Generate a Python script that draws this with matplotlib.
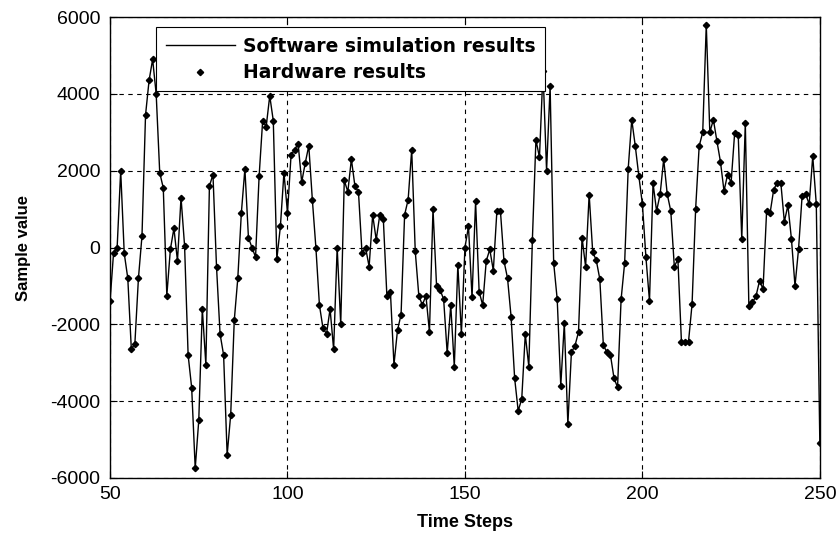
import numpy as np
import matplotlib
matplotlib.use('Agg')
import matplotlib.pyplot as plt

plt.rcParams['font.family'] = ['Liberation Sans', 'DejaVu Sans']
plt.rcParams['axes.unicode_minus'] = False

steps = list(range(50, 251))
values = [
    -1400, -130, 0, 2000, -150, -800, -2650, -2500, -800, 300,          # 50-59
    3450, 4350, 4900, 4000, 1950, 1550, -1250, -50, 500, -350,          # 60-69
    1300, 50, -2800, -3650, -5750, -4500, -1600, -3050, 1600, 1900,     # 70-79
    -500, -2250, -2800, -5400, -4350, -1900, -800, 900, 2050, 250,      # 80-89
    0, -250, 1850, 3300, 3150, 3950, 3300, -300, 550, 1950,             # 90-99
    900, 2400, 2550, 2700, 1700, 2200, 2650, 1250, 0, -1500,            # 100-109
    -2100, -2250, -1600, -2650, 0, -2000, 1750, 1450, 2300, 1600,       # 110-119
    1450, -150, 0, -500, 850, 200, 850, 750, -1250, -1150,              # 120-129
    -3050, -2150, -1750, 850, 1250, 2550, -100, -1250, -1500, -1250,    # 130-139
    -2200, 1000, -1000, -1100, -1350, -2750, -1500, -3100, -450, -2250, # 140-149
    0, 550, -1300, 1200, -1150, -1500, -350, -50, -600, 950,            # 150-159
    950, -350, -800, -1800, -3400, -4250, -3950, -2260, -3100, 200,     # 160-169
    2800, 2350, 4600, 2000, 4200, -400, -1350, -3600, -1970, -4600,     # 170-179
    -2730, -2560, -2200, 260, -500, 1380, -120, -330, -820, -2540,      # 180-189
    -2730, -2800, -3400, -3640, -1350, -400, 2050, 3330, 2640, 1860,    # 190-199
    1130, -260, -1390, 1670, 950, 1390, 2300, 1390, 950, -500,          # 200-209
    -300, -2450, -2450, -2450, -1470, 1000, 2640, 3000, 5800, 3000,     # 210-219
    3330, 2770, 2230, 1470, 1900, 1690, 2990, 2940, 220, 3250,          # 220-229
    -1520, -1430, -1270, -870, -1080, 950, 910, 1510, 1690, 1690,       # 230-239
    670, 1100, 220, -1000, -40, 1340, 1390, 1130, 2380, 1130,           # 240-249
    -5100,                                                              # 250
]

xticks = [50, 100, 150, 200, 250]
yticks = [-6000, -4000, -2000, 0, 2000, 4000, 6000]

fig = plt.figure(figsize=(8.4, 5.34), dpi=100)
ax = fig.add_axes([0.131, 0.105, 0.845, 0.863])

ax.plot(steps, values, '-', color='black', linewidth=1.0,
        label='Software simulation results')
ax.plot(steps, values, 'D', color='black', markersize=3.2,
        label='Hardware results')

ax.set_xlim(50, 250)
ax.set_ylim(-6000, 6000)
ax.set_xticks(xticks)
ax.set_yticks(yticks)
ax.tick_params(direction='in', top=True, right=True, labelsize=14,
               length=5, width=0.8)
ax.tick_params(axis='x', pad=6)
ax.tick_params(axis='y', pad=7)
ax.grid(True, color='black', linestyle=(0, (4, 4)), linewidth=0.8)
for s in ax.spines.values():
    s.set_linewidth(1.0)

ax.set_xlabel('Time Steps', fontweight='bold', fontsize=13, labelpad=8)
ax.set_ylabel('Sample value', fontweight='bold', fontsize=12, labelpad=14)

leg = ax.legend(loc='upper left', bbox_to_anchor=(0.065, 0.978),
                prop={'family': 'DejaVu Sans', 'weight': 'bold', 'size': 13.5},
                handlelength=3.7, handletextpad=0.45,
                fancybox=False, framealpha=1, edgecolor='black',
                borderpad=0.5, labelspacing=0.4, borderaxespad=0)
leg.get_frame().set_linewidth(0.8)

fig.savefig('out.png', dpi=100)
